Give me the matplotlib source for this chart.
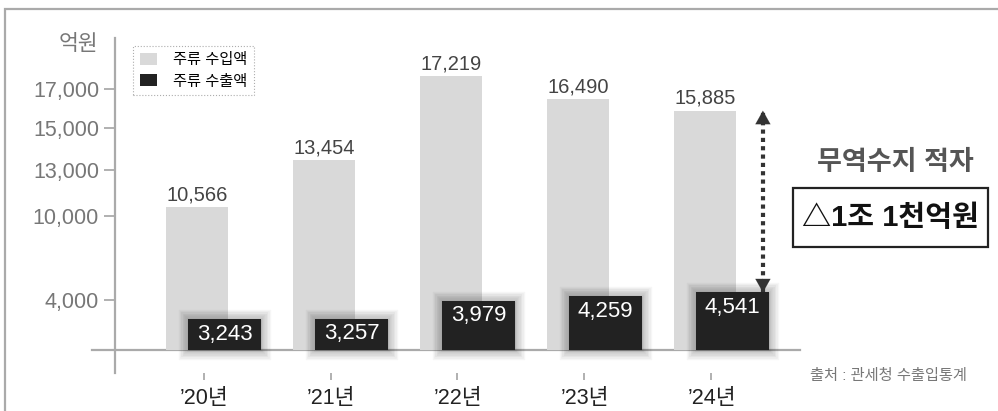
import numpy as np
import matplotlib
matplotlib.use("Agg")
import matplotlib.pyplot as plt
import matplotlib.patheffects as pe
from matplotlib.patches import Patch, Rectangle

plt.rcParams['font.family'] = ['Liberation Sans', 'Noto Sans CJK KR']

# ---- DATA ----
years = ["’20년", "’21년", "’22년", "’23년", "’24년"]
imports = [10566, 13454, 17219, 16490, 15885]
exports = [3243, 3257, 3979, 4259, 4541]
ytick_vals = [4000, 10000, 13000, 15000, 17000]
base_val = 2000

# ---- broken (piecewise) value axis as in the original ----
knot_vals = [1000, 2000, 4000, 10000, 13000, 15000, 17000, 18000]
knot_pos = [-25, 0, 50, 134, 180, 222, 261, 320]

def fwd(v):
    return np.interp(v, knot_vals, knot_pos)

def inv(u):
    return np.interp(u, knot_pos, knot_vals)

W, H = 998, 411
fig = plt.figure(figsize=(W / 100, H / 100), dpi=100)
ax = fig.add_axes([115 / W, (H - 373) / H, 685 / W, 335 / H])

LIGHT = '#d9d9d9'
DARK = '#222222'
GRID = '#aaaaaa'

x = np.arange(len(years))
imp = np.array(imports)
exp_ = np.array(exports)

ax.set_yscale('function', functions=(fwd, inv))
ax.set_ylim(1080, 17864)
ax.set_xlim(-0.697, 4.697)

ax.bar(x - 0.05, imp - base_val, bottom=base_val, width=0.49, color=LIGHT, zorder=2)

# soft glow round the export bars
glow = [pe.Stroke(linewidth=w, foreground='black', alpha=0.035) for w in (14, 12, 10, 8, 6, 4, 2)]
glow.append(pe.Normal())
dbars = ax.bar(x + 0.165, exp_ - base_val, bottom=base_val, width=0.575, color=DARK, zorder=3)
for b in dbars:
    b.set_path_effects(glow)

# baseline
ax.axhline(base_val, xmin=-23 / 685, xmax=1, color=GRID, lw=1.6, zorder=1, clip_on=False)

# value labels
for xi, v in zip(x, imports):
    ax.annotate(f"{v:,}", (xi - 0.05, v), xytext=(0, 2), textcoords='offset points',
                ha='center', va='bottom', fontsize=14.5, color='#444444', zorder=4)
for xi, v in zip(x, exports):
    ax.annotate(f"{v:,}", (xi + 0.165, v), xytext=(0, -11), textcoords='offset points',
                ha='center', va='center', fontsize=16, color='white', zorder=5)

# axes styling
for s in ['top', 'right', 'bottom']:
    ax.spines[s].set_visible(False)
ax.spines['left'].set_color(GRID)
ax.spines['left'].set_linewidth(1.6)

ax.set_yticks(ytick_vals)
ax.set_yticklabels([f"{v:,}" for v in ytick_vals])
ax.yaxis.set_minor_locator(matplotlib.ticker.NullLocator())
ax.tick_params(axis='y', length=8, width=1.3, color=GRID, pad=3.5,
               labelsize=15.5, labelcolor='#777777')

ax.set_xticks(x)
ax.set_xticklabels(years)
ax.tick_params(axis='x', length=5, width=1.3, color=GRID, pad=6,
               labelsize=15.5, labelcolor='#222222')

fig.text(78 / W, 1 - 45 / H, "억원", ha='center', va='center', fontsize=15.5, color='#777777')

# legend
handles = [Patch(facecolor=LIGHT, edgecolor='none', label='주류 수입액'),
           Patch(facecolor=DARK, edgecolor='none', label='주류 수출액')]
leg = fig.legend(handles=handles, loc='upper left', bbox_to_anchor=(133 / W, 1 - 46 / H),
                 borderaxespad=0, fontsize=11, frameon=True, fancybox=False,
                 handlelength=1.15, handleheight=0.85, handletextpad=1.0,
                 borderpad=0.45, labelspacing=0.45)
leg.get_frame().set_edgecolor('#999999')
leg.get_frame().set_linestyle(':')
leg.get_frame().set_linewidth(0.8)

# deficit arrow: dotted shaft + solid heads touching the bar tops
ax_x = 4.405
ax.plot([ax_x, ax_x], [exports[-1], imports[-1]], color='#333333', lw=3,
        linestyle=(0, (1, 1)), dash_capstyle='butt', zorder=6)
head = dict(arrowstyle='-|>,head_length=0.8,head_width=0.45', color='#333333',
            lw=0.1, shrinkA=0, shrinkB=0, mutation_scale=12)
ax.annotate('', xy=(ax_x, imports[-1]), xytext=(0, -10), textcoords='offset points',
            arrowprops=head, zorder=7)
ax.annotate('', xy=(ax_x, exports[-1]), xytext=(0, 10), textcoords='offset points',
            arrowprops=head, zorder=7)

fig.text(895 / W, 1 - 163 / H, "무역수지 적자", ha='center', va='center', fontsize=19.5,
         fontweight='bold', color='#555555')
fig.add_artist(Rectangle((793 / W, 1 - 247 / H), 195 / W, 59 / H, transform=fig.transFigure,
                         fill=False, edgecolor='#222222', lw=1.6))
fig.text(890 / W, 1 - 218 / H, "△1조 1천억원", ha='center', va='center', fontsize=21,
         fontweight='bold', color='#111111')
fig.text(888 / W, 1 - 376 / H, "출처 : 관세청 수출입통계", ha='center', va='center',
         fontsize=11, color='#777777')

# outer frame (top and left edges visible)
fig.add_artist(Rectangle((5 / W, -0.1), 1.2, (H - 9) / H + 0.1, transform=fig.transFigure,
                         fill=False, edgecolor='#aaaaaa', lw=1.6))

fig.savefig("out.png", dpi=100)
